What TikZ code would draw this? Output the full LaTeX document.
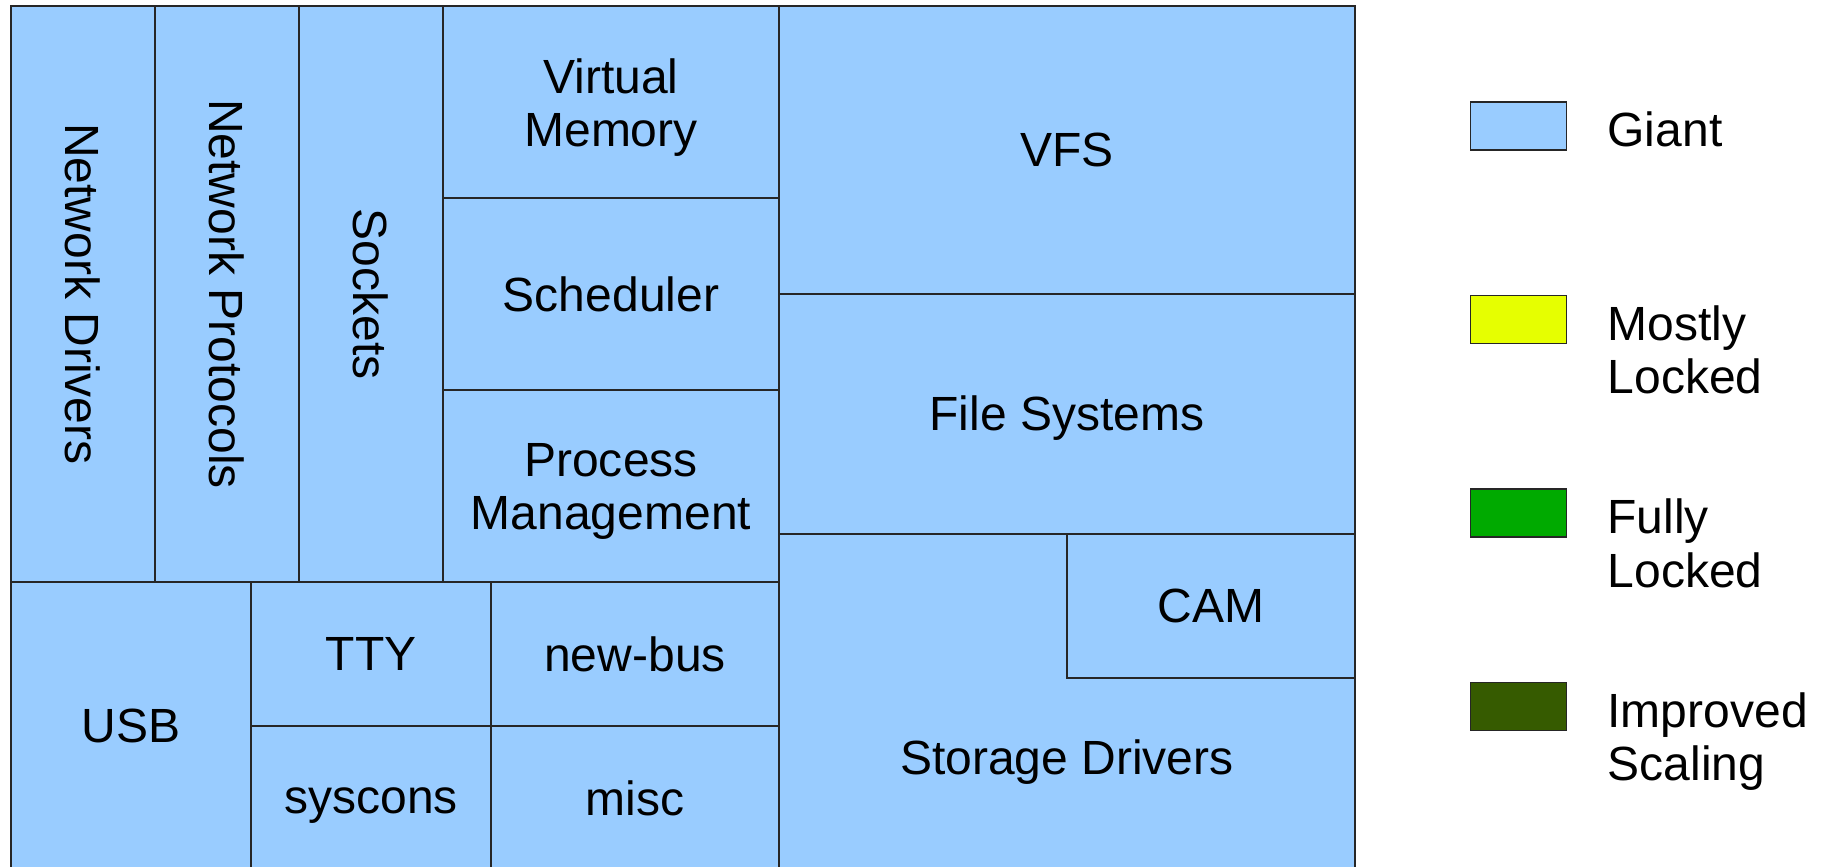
\documentclass[tikz,border=0pt]{standalone}
\usepackage{fontspec}
\setmainfont{Liberation Sans}
\usetikzlibrary{positioning}

\definecolor{giant}{HTML}{99CCFF}
\definecolor{mostly}{HTML}{E6FF00}
\definecolor{fully}{HTML}{00AA00}
\definecolor{scaling}{HTML}{365B00}

\begin{document}
\begin{tikzpicture}[
    x=0.48cm, y=-0.48cm,
    block/.style={
        rectangle,
        draw=black!85,
        line width=0.4pt,
        fill=giant,
        inner sep=0pt,
        align=center,
        font=\fontsize{13.66}{15.2}\selectfont
    },
    cell/.style 2 args={minimum width=#1*0.48cm, minimum height=#2*0.48cm},
    swatch/.style={
        rectangle,
        draw=black!85,
        line width=0.4pt,
        inner sep=0pt,
        minimum width=0.96cm,
        minimum height=0.48cm
    },
    keytext/.style={inner sep=0pt, align=left, font=\fontsize{13.66}{15.2}\selectfont}
]
\useasboundingbox (-0.2292,-0.125) rectangle (37.7292,17.9167);

% Network stack columns
\node[block, cell={12}{3}, rotate=-90] (netdrv) at (1.5,6) {Network Drivers};
\node[block, cell={12}{3}, rotate=-90] (netproto) at (4.5,6) {Network Protocols};
\node[block, cell={12}{3}, rotate=-90] (sockets) at (7.5,6) {Sockets};

% Core kernel
\node[block, cell={7}{4}] (vm) at (12.5,2) {};
\node[keytext, align=center, yshift=-0.058cm] (vmtxt) at (vm) {Virtual\\Memory};
\node[block, cell={7}{4}] (sched) at (12.5,6) {Scheduler};
\node[block, cell={7}{4}] (procmgmt) at (12.5,10) {};
\node[keytext, align=center, yshift=-0.055cm] (proctxt) at (procmgmt) {Process\\Management};

% File systems and storage
\node[block, cell={12}{6}] (vfs) at (22,3) {VFS};
\node[block, cell={12}{5}] (filesys) at (22,8.5) {};
\node[keytext, yshift=-0.045cm] (fstxt) at (filesys) {File Systems};
\node[block, cell={12}{7}] (storage) at (22,14.5) {};
\node[block, cell={6}{3}] (cam) at (25,12.5) {CAM};
\node[keytext, yshift=-0.035cm] (storagetxt) at (22,15.67) {Storage Drivers};

% Devices
\node[block, cell={5}{6}] (usb) at (2.5,15) {USB};
\node[block, cell={5}{3}] (tty) at (7.5,13.5) {TTY};
\node[block, cell={6}{3}] (newbus) at (13,13.5) {new-bus};
\node[block, cell={5}{3}] (syscons) at (7.5,16.5) {};
\node[keytext, yshift=-0.08cm] (sysconstxt) at (syscons) {syscons};
\node[block, cell={6}{3}] (misc) at (13,16.5) {misc};

% Legend
\node[swatch, fill=giant] (giantkey) at (31.4,2.5) {};
\node[swatch, fill=mostly, below=1.44cm of giantkey] (mostlykey) {};
\node[swatch, fill=fully, below=1.44cm of mostlykey] (fullykey) {};
\node[swatch, fill=scaling, below=1.44cm of fullykey] (scalingkey) {};

\node[keytext, below right=0.1cm and 0.4cm of giantkey.north east] (gianttxt) {Giant};
\node[keytext, below right=0.1cm and 0.4cm of mostlykey.north east] (mostlytxt) {Mostly\\Locked};
\node[keytext, below right=0.1cm and 0.4cm of fullykey.north east] (fullytxt) {Fully\\Locked};
\node[keytext, below right=0.1cm and 0.4cm of scalingkey.north east] (scalingtxt) {Improved\\Scaling};

\end{tikzpicture}
\end{document}
